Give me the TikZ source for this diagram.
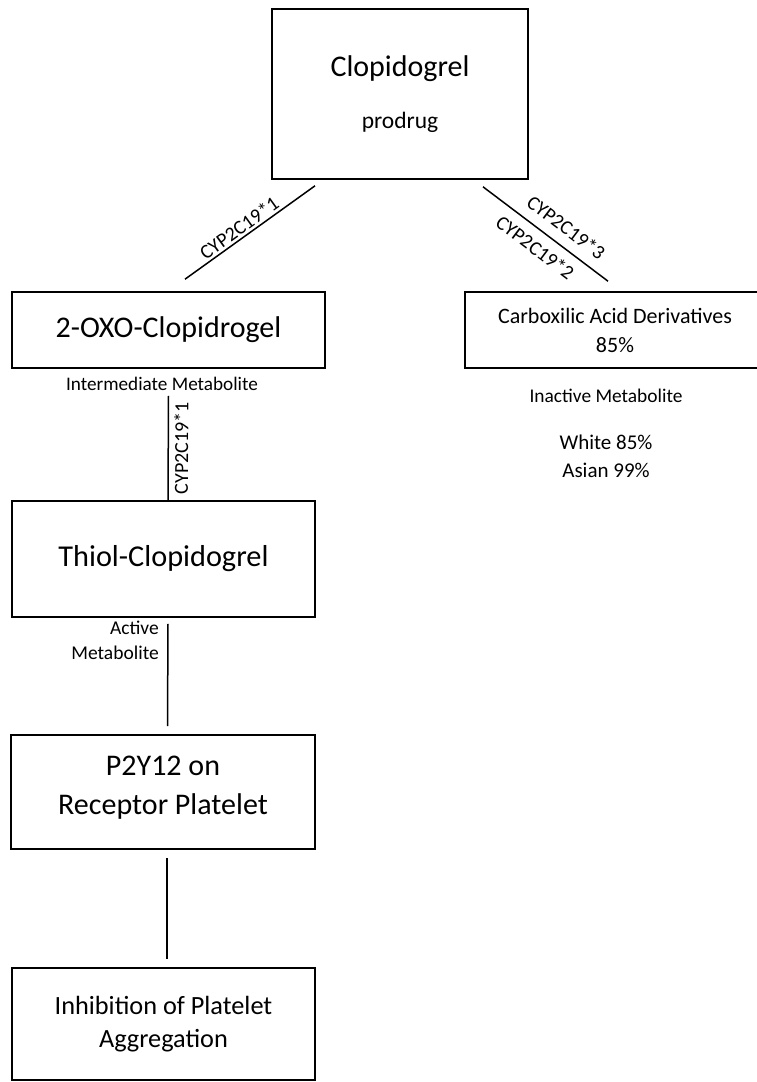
\documentclass[tikz,border=0pt]{standalone}
\usepackage{fontspec}
\setmainfont{Carlito}
\usetikzlibrary{positioning}

\begin{document}
\begin{tikzpicture}[x=1pt, y=-1pt,
    box/.style={draw, line width=1.6pt, align=center, inner sep=0pt},
    lbl/.style={align=center, inner sep=2pt},
    enz/.style={sloped, inner sep=2pt, font=\fontsize{20}{24}\selectfont},
    link/.style={line width=1.5pt}]
    % Fix the canvas
    \useasboundingbox (0,0) rectangle (757,1082);

    % Draw the prodrug box
    \node[box, minimum width=256pt, minimum height=170pt, font=\fontsize{30}{37}\selectfont] (clop) at (400,94)
      {Clopidogrel\\[15pt]{\fontsize{23.5}{28}\selectfont prodrug}};

    % Draw the metabolite boxes
    \node[box, minimum width=313pt, minimum height=76pt, font=\fontsize{30}{34}\selectfont] (oxo) at (168.5,330) {2-OXO-Clopidrogel};
    \node[box, minimum width=300pt, minimum height=76pt, font=\fontsize{22}{29}\selectfont] (carb) at (615,330)
      {Carboxilic Acid Derivatives\\85\%};
    \node[box, minimum width=303pt, minimum height=116pt, font=\fontsize{30.3}{35}\selectfont] (thiol) at (163.5,559) {Thiol-Clopidogrel};
    \node[box, minimum width=304pt, minimum height=114pt, font=\fontsize{30}{39}\selectfont] (p2y) at (163,792)
      {P2Y12 on\\Receptor Platelet\\[-25pt]};
    \node[box, minimum width=303pt, minimum height=112pt, font=\fontsize{26.3}{33}\selectfont] (inh) at (163.5,1024)
      {Inhibition of Platelet\\Aggregation};

    % Draw the free labels
    \node[lbl, font=\fontsize{19.2}{24}\selectfont] (interm) at (162,384) {Intermediate Metabolite};
    \node[lbl, font=\fontsize{19.4}{24}\selectfont] (inact) at (606,396) {Inactive Metabolite};
    \node[lbl, font=\fontsize{21}{28}\selectfont] (share) at (606,456) {White 85\%\\Asian 99\%};
    \node[lbl, align=right, anchor=east, font=\fontsize{19.5}{25}\selectfont] (active) at (161,640) {Active\\Metabolite};

    % Draw the enzyme links from the prodrug
    \coordinate (l1) at ([xshift=-85pt, yshift=-6pt]clop.south);
    \coordinate (l2) at ([xshift=16.5pt, yshift=12pt]oxo.north);
    \draw[link] (l2) -- node[enz, above, pos=0.46] {CYP2C19*1} (l1);

    \coordinate (r1) at ([xshift=83pt, yshift=-7pt]clop.south);
    \coordinate (r2) at ([xshift=-7pt, yshift=10pt]carb.north);
    \draw[link] (r1) -- node[enz, above=8pt, pos=0.58] {CYP2C19*3}
      node[enz, below=7pt, pos=0.5] {CYP2C19*2} (r2);

    % Draw the links down the left column
    \coordinate (v1) at ([yshift=-27pt]oxo.south);
    \draw[link] ([xshift=4.5pt]thiol.north) -- node[enz, below=3pt] {CYP2C19*1} (v1);

    \coordinate (v2) at ([xshift=4.5pt, yshift=-6pt]thiol.south);
    \coordinate (v3) at ([xshift=4.5pt, yshift=8pt]p2y.north);
    \draw[link] (v2) -- (v3);

    \coordinate (v4) at ([xshift=4pt, yshift=-8pt]p2y.south);
    \coordinate (v5) at ([xshift=3.5pt, yshift=8pt]inh.north);
    \draw[link] (v4) -- (v5);
\end{tikzpicture}
\end{document}
